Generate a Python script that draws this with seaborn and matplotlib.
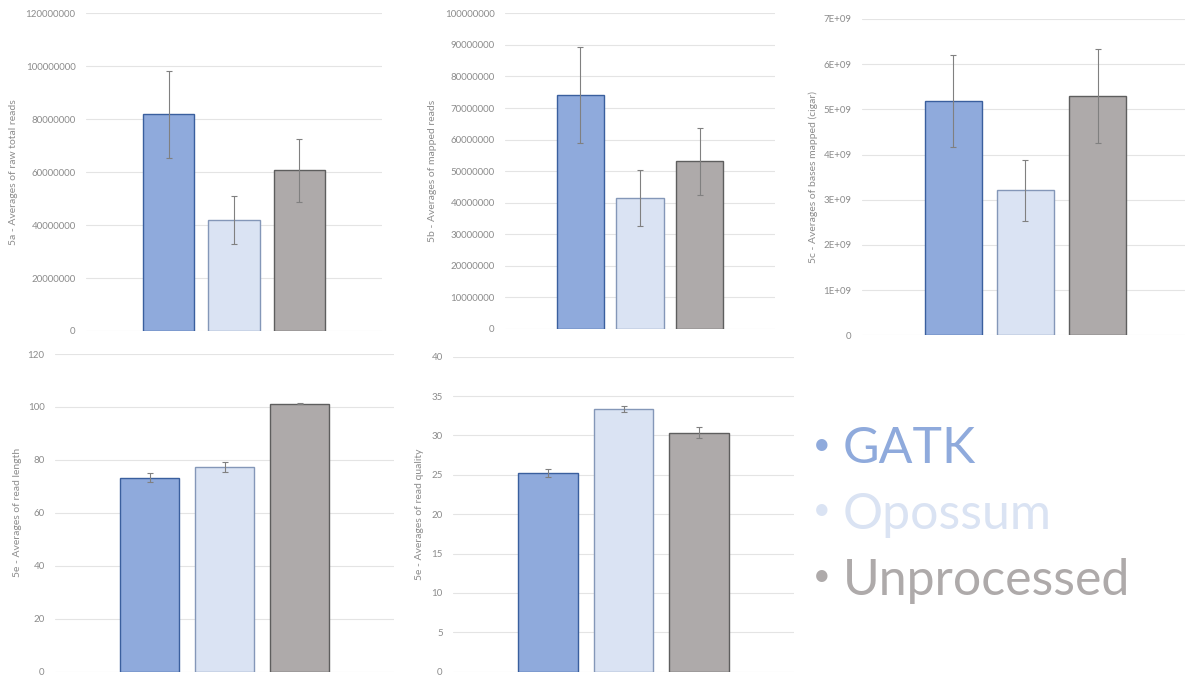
import matplotlib

matplotlib.use("Agg")
import matplotlib.pyplot as plt
import numpy as np
import seaborn as sns

# --- data ---
tools = ["GATK", "Opossum", "Unprocessed"]

raw_reads = [81.8e6, 41.8e6, 60.7e6]
raw_reads_err = [16.5e6, 9.1e6, 12.0e6]

mapped_reads = [74.1e6, 41.6e6, 53.1e6]
mapped_reads_err = [15.2e6, 8.9e6, 10.6e6]

bases_mapped = [5.19e9, 3.21e9, 5.29e9]
bases_mapped_err = [1.02e9, 0.67e9, 1.04e9]

read_length = [73.3, 77.3, 101.2]
read_length_err = [1.75, 1.8, 0.2]

read_quality = [25.2, 33.3, 30.35]
read_quality_err = [0.5, 0.38, 0.7]

fills = ["#8faadc", "#dae3f3", "#aeaaaa"]
edges = ["#3a5f9e", "#8497b8", "#5e5e5e"]

W, H = 1185, 676

sns.set_theme(style="white")
plt.rcParams["font.family"] = ["Lato", "DejaVu Sans"]

fig = plt.figure(figsize=(W / 100, H / 100), dpi=100)


def sci_fmt(v, p):
    return "0" if v == 0 else f"{v:.0E}".replace("E+0", "E+0")


panels = [
    # values, errors, ylabel, ymax, step, formatter, (left, right, zero_y, top_y, label_x) in px
    (raw_reads, raw_reads_err, "5a - Averages of raw total reads", 120e6, 20e6,
     lambda v, p: f"{v:.0f}", (86, 382, 331, 13.3, 13)),
    (mapped_reads, mapped_reads_err, "5b - Averages of mapped reads", 100e6, 10e6,
     lambda v, p: f"{v:.0f}", (505, 775, 329, 13.3, 432)),
    (bases_mapped, bases_mapped_err, "5c - Averages of bases mapped (cigar)", 7e9, 1e9,
     sci_fmt, (862, 1189, 335.3, 19, 813)),
    (read_length, read_length_err, "5e - Averages of read length", 120, 20,
     lambda v, p: f"{v:.0f}", (55, 394, 671.7, 354, 17)),
    (read_quality, read_quality_err, "5e - Averages of read quality", 40, 5,
     lambda v, p: f"{v:.0f}", (453, 794, 671.7, 356.7, 419)),
]

for vals, errs, label, ymax, step, fmt, (left, right, y0, yt, lx) in panels:
    ax = fig.add_axes([left / W, (H - y0) / H, (right - left) / W, (y0 - yt) / H])
    sns.barplot(x=tools, y=vals, hue=tools, palette=fills, width=0.79,
                saturation=1, legend=False, ax=ax)
    for patch, ec in zip(ax.patches, edges):
        patch.set_edgecolor(ec)
        patch.set_linewidth(1.0)
    centers = [p.get_x() + p.get_width() / 2 for p in ax.patches]
    ax.errorbar(centers, vals, yerr=errs, fmt="none", ecolor="#808080",
                elinewidth=0.8, capsize=2.5, capthick=0.8, zorder=5)
    ax.set_xlim(-1.26, 3.26)
    ax.set_ylim(0, ymax)
    ax.set_yticks(np.arange(0, ymax + step / 2, step))
    ax.yaxis.set_major_formatter(plt.FuncFormatter(fmt))
    ax.set_xticks([])
    ax.set_xlabel("")
    ax.grid(axis="y", color="#e4e4e4", linewidth=0.8)
    ax.set_axisbelow(True)
    for s in ax.spines.values():
        s.set_visible(False)
    ax.tick_params(axis="y", length=0, pad=7.5, labelsize=7, labelcolor="#8c8c8c")
    ax.set_ylabel(label, fontsize=7.5, color="#8c8c8c")
    ax.yaxis.set_label_coords((lx + 5 - left) / (right - left), 0.5)

# legend drawn as coloured bullet text
for i, (name, col) in enumerate(zip(tools, fills)):
    y = 1 - (463 + i * 66) / H
    fig.text(843 / W, y, name, fontsize=36, color=col, va="baseline", ha="left")
    fig.text(822 / W, 1 - (445 + i * 65.5) / H, "\u2022", fontsize=22, color=col,
             va="center", ha="center")

fig.savefig("out.png", dpi=100)
